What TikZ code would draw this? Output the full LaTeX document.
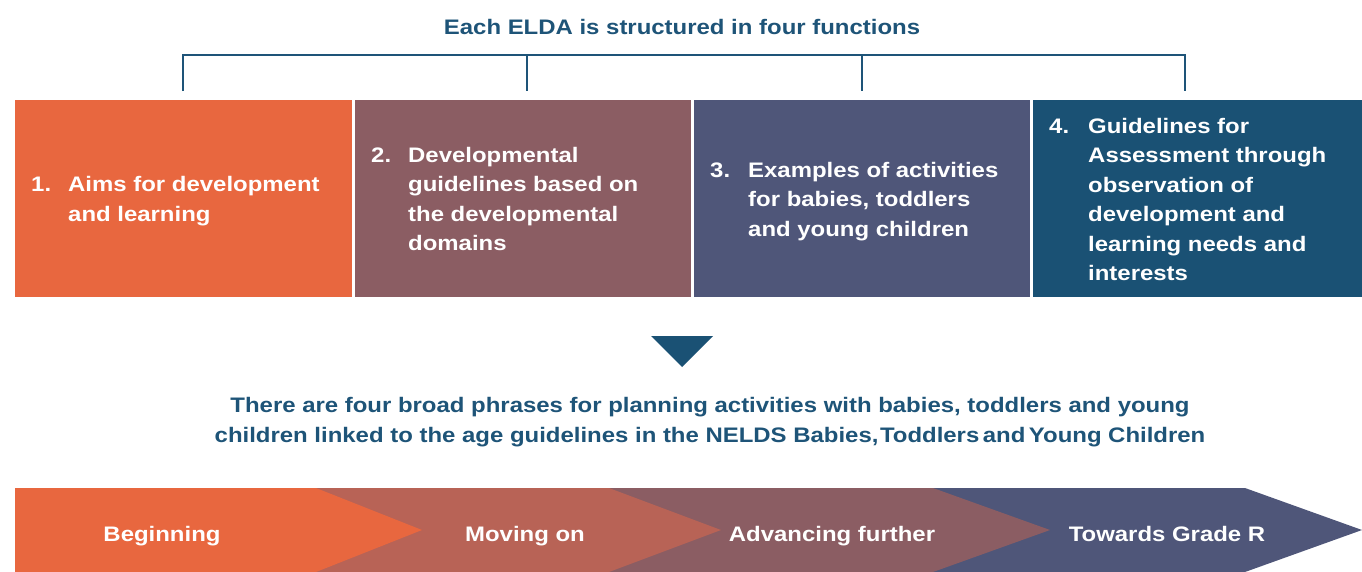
\documentclass[tikz,border=0pt]{standalone}
\usepackage{fontspec}
\setmainfont{Liberation Sans}[FakeStretch=1.14]
\usepackage{array}
\definecolor{cOrange}{HTML}{E8673F}
\definecolor{cChev}{HTML}{B86356}
\definecolor{cMauve}{HTML}{8B5D63}
\definecolor{cSlate}{HTML}{4F5679}
\definecolor{cBlue}{HTML}{1A5174}
\definecolor{ttlblue}{HTML}{1E5478}
\begin{document}
\begin{tikzpicture}[x=1pt,y=-1pt,
  lbl/.style={text=white,font=\fontsize{21}{29.5}\selectfont\bfseries,inner sep=0pt},
  ttl/.style={text=ttlblue,font=\fontsize{21}{29.5}\selectfont\bfseries,inner sep=0pt,align=center},
  panel/.style={inner sep=0pt,outer sep=0pt,anchor=north west,minimum height=197pt},
  brk/.style={draw=ttlblue,line width=2pt}]
\useasboundingbox (0,0) rectangle (1362,571);
\fill[white] (0,0) rectangle (1362,571);

% title
\node[ttl,anchor=base] (title) at (682,34.3) {Each ELDA is structured in four functions};

% bracket
\coordinate (k1) at (183,55); \coordinate (t1) at (183,91);
\coordinate (k2) at (527,55); \coordinate (t2) at (527,91);
\coordinate (k3) at (862,55); \coordinate (t3) at (862,91);
\coordinate (k4) at (1185,55); \coordinate (t4) at (1185,91);
\draw[brk] (t1) -- (k1) -- (k4) -- (t4);
\draw[brk] (k2) -- (t2);
\draw[brk] (k3) -- (t3);

% panels
\node[panel,fill=cOrange,minimum width=337pt] (p1) at (15,100) {};
\node[panel,fill=cMauve,minimum width=336pt] (p2) at (355,100) {};
\node[panel,fill=cSlate,minimum width=336pt] (p3) at (694,100) {};
\node[panel,fill=cBlue,minimum width=329pt] (p4) at (1033,100) {};

\node[lbl,anchor=base west] (x1) at (31,191.7) {\begin{tabular}[t]{@{}p{37pt}@{}l@{}}1.&Aims for development\\&and learning\end{tabular}};
\node[lbl,anchor=base west] (x2) at (371,162) {\begin{tabular}[t]{@{}p{37pt}@{}l@{}}2.&Developmental\\&guidelines based on\\&the developmental\\&domains\end{tabular}};
\node[lbl,anchor=base west] (x3) at (710,177) {\begin{tabular}[t]{@{}p{38pt}@{}l@{}}3.&Examples of activities\\&for babies, toddlers\\&and young children\end{tabular}};
\node[lbl,anchor=base west] (x4) at (1049,133) {\begin{tabular}[t]{@{}p{39pt}@{}l@{}}4.&Guidelines for\\&Assessment through\\&observation of\\&development and\\&learning needs and\\&interests\end{tabular}};

% down triangle
\fill[cBlue] (651,336) -- (713,336) -- (682,367) -- cycle;

% middle text
\node[ttl,anchor=base] (mid) at (710,442) {There are four broad phrases for planning activities with babies, toddlers and young\\children linked to the age guidelines in the NELDS Babies,\hspace{1.5pt}Toddlers\hspace{3.5pt}and\hspace{3.5pt}Young Children};

% chevrons
\fill[cSlate] (15,488) -- (1245,488) -- (1362,530) -- (1245,572) -- (15,572) -- cycle;
\fill[cMauve] (15,488) -- (933,488) -- (1050,530) -- (933,572) -- (15,572) -- cycle;
\fill[cChev] (15,488) -- (609,488) -- (721,530) -- (609,572) -- (15,572) -- cycle;
\fill[cOrange] (15,488) -- (316,488) -- (422,530) -- (316,572) -- (15,572) -- cycle;

\node[lbl,anchor=base] (s1) at (162,541) {Beginning};
\node[lbl,anchor=base] (s2) at (525,541) {Moving on};
\node[lbl,anchor=base] (s3) at (832,541) {Advancing further};
\node[lbl,anchor=base] (s4) at (1167,541) {Towards Grade R};
\end{tikzpicture}
\end{document}
